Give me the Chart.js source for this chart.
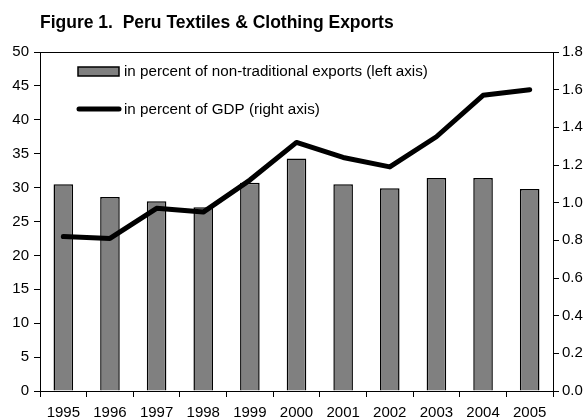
<!DOCTYPE html>
<html>
<head>
<meta charset="utf-8">
<script src="https://cdn.jsdelivr.net/npm/chart.js@4/dist/chart.umd.min.js"></script>
<style>
  html, body { margin: 0; padding: 0; background: #fff; }
  #wrap { width: 588px; height: 419px; }
</style>
</head>
<body>
<div id="wrap"><canvas id="chart" width="588" height="419"></canvas></div>
<script>
// Peru textiles & clothing exports, 1995-2005
var years = ["1995","1996","1997","1998","1999","2000","2001","2002","2003","2004","2005"];
var pctNonTrad = [30.5, 28.6, 28.0, 27.1, 30.7, 34.3, 30.5, 29.9, 31.4, 31.4, 29.8];
var pctGdp = [0.82, 0.81, 0.97, 0.95, 1.12, 1.32, 1.24, 1.19, 1.35, 1.57, 1.60];
var leftTicks = [0, 5, 10, 15, 20, 25, 30, 35, 40, 45, 50];
var rightTicks = [0.0, 0.2, 0.4, 0.6, 0.8, 1.0, 1.2, 1.4, 1.6, 1.8];

var titleText = "Figure 1.  Peru Textiles & Clothing Exports";
var fontName = "'Liberation Sans', Arial, sans-serif";

// title, frame and legend drawn by hand
var decor = {
  id: "decor",
  afterDraw: function(chart) {
    var ctx = chart.ctx;
    var a = chart.chartArea;
    var bars = chart.data.datasets.filter(function(d) { return d.type === "bar"; })[0];
    var line = chart.data.datasets.filter(function(d) { return d.type === "line"; })[0];
    ctx.save();
    ctx.strokeStyle = "#000";
    ctx.lineWidth = 1;
    ctx.strokeRect(a.left + 0.5, a.top + 0.5, a.right - a.left, a.bottom - a.top);

    ctx.fillStyle = "#000";
    ctx.font = "bold 17.5px " + fontName;
    ctx.textBaseline = "middle";
    ctx.textAlign = "left";
    ctx.fillText(titleText, 40, 23);

    ctx.font = "15.2px " + fontName;
    // bar key
    ctx.fillStyle = bars.backgroundColor;
    ctx.fillRect(78, 67, 41, 9);
    ctx.strokeStyle = "#000";
    ctx.lineWidth = 1.5;
    ctx.strokeRect(78, 67, 41, 9);
    ctx.fillStyle = "#000";
    ctx.fillText(bars.label, 124, 72);
    // line key
    ctx.beginPath();
    ctx.lineCap = "round";
    ctx.lineWidth = 5;
    ctx.moveTo(79, 109);
    ctx.lineTo(119, 109);
    ctx.stroke();
    ctx.fillText(line.label, 124, 110);
    ctx.restore();
  }
};

new Chart(document.getElementById("chart"), {
  type: "bar",
  data: {
    labels: years,
    datasets: [
      {
        type: "line",
        label: "in percent of GDP (right axis)",
        data: pctGdp,
        yAxisID: "yR",
        borderColor: "#000",
        borderWidth: 5,
        borderJoinStyle: "round",
        borderCapStyle: "round",
        pointRadius: 0,
        tension: 0,
        order: 0
      },
      {
        type: "bar",
        label: "in percent of non-traditional exports (left axis)",
        data: pctNonTrad,
        yAxisID: "yL",
        backgroundColor: "#808080",
        borderColor: "#000",
        borderWidth: 1.5,
        barPercentage: 0.42,
        categoryPercentage: 1,
        order: 1
      }
    ]
  },
  options: {
    responsive: false,
    animation: false,
    layout: { padding: { top: 52, left: 0, right: 0, bottom: 0 } },
    plugins: {
      legend: { display: false },
      title: { display: false },
      tooltip: { enabled: false }
    },
    scales: {
      x: {
        offset: true,
        grid: { offset: true, drawOnChartArea: false, color: "#000", tickLength: 6 },
        border: { color: "#000" },
        ticks: { color: "#000", font: { family: fontName, size: 15 }, padding: 7, maxRotation: 0 },
        afterFit: function(s) { s.height = 28; }
      },
      yL: {
        position: "left",
        min: 0, max: 50,
        afterBuildTicks: function(s) { s.ticks = leftTicks.map(function(v) { return { value: v }; }); },
        grid: { drawOnChartArea: false, color: "#000", tickLength: 6 },
        border: { color: "#000" },
        ticks: { color: "#000", font: { family: fontName, size: 15 }, padding: 5 },
        afterFit: function(s) { s.width = 40; }
      },
      yR: {
        position: "right",
        min: 0, max: 1.8,
        afterBuildTicks: function(s) { s.ticks = rightTicks.map(function(v) { return { value: v }; }); },
        grid: { drawOnChartArea: false, color: "#000", tickLength: 6 },
        border: { color: "#000" },
        ticks: {
          color: "#000", font: { family: fontName, size: 15 }, padding: 3,
          callback: function(v) { return Number(v).toFixed(1); }
        },
        afterFit: function(s) { s.width = 35; }
      }
    }
  },
  plugins: [decor]
});
</script>
</body>
</html>
